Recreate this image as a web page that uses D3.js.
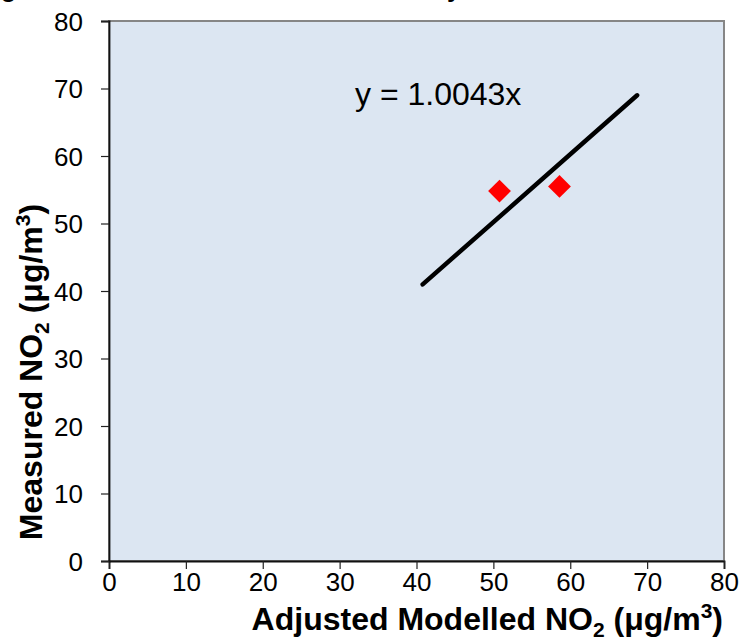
<!DOCTYPE html>
<html lang="en">
  <head>
    <meta charset="utf-8" />
    <title>Measured vs Adjusted Modelled NO2</title>
    <script src="https://d3js.org/d3.v7.min.js"></script>
    <style>
      body {
        margin: 0;
        background: #fff;
      }
      text {
        font-family: Arial, "Liberation Sans", sans-serif;
        fill: #000;
      }
    </style>
  </head>
  <body>
    <script type="text/javascript">
      // data
      const modelled = [50.8, 58.6];
      const measured = [54.8, 55.5];
      const slope = 1.0043;
      const trendX = [40.8, 68.7];
      const xTicks = [0, 10, 20, 30, 40, 50, 60, 70, 80];
      const yTicks = [0, 10, 20, 30, 40, 50, 60, 70, 80];

      //Width and height
      const w = 742;
      const h = 639;

      let xScale = d3.scaleLinear().domain([0, 80]).range([109, 724]);
      let yScale = d3.scaleLinear().domain([0, 80]).range([561, 21]);

      let svg = d3
        .select("body")
        .append("svg")
        .attr("width", w)
        .attr("height", h);

      // clipped title, only descenders show
      svg
        .append("text")
        .attr("x", -22)
        .attr("y", -3)
        .attr("font-size", "25.5px")
        .attr("font-weight", "bold")
        .text("Figure 1: Measured vs Modelled NO2 by Site");

      // plot area
      svg
        .append("rect")
        .attr("x", xScale(0))
        .attr("y", yScale(80))
        .attr("width", xScale(80) - xScale(0))
        .attr("height", yScale(0) - yScale(80))
        .attr("fill", "#dce6f2")
        .attr("stroke", "#868686")
        .attr("stroke-width", 2);

      let xAxis = d3
        .axisBottom(xScale)
        .tickValues(xTicks)
        .tickSize(8)
        .tickPadding(4);
      let yAxis = d3
        .axisLeft(yScale)
        .tickValues(yTicks)
        .tickSize(8)
        .tickPadding(18);

      let gx = svg
        .append("g")
        .attr("transform", "translate(0," + yScale(0) + ")")
        .call(xAxis);
      let gy = svg
        .append("g")
        .attr("transform", "translate(" + xScale(0) + ",0)")
        .call(yAxis);

      [gx, gy].forEach((g) => {
        g.select(".domain").attr("stroke", "#111").attr("stroke-width", 1.8);
        g.selectAll(".tick line").attr("stroke", "#222").attr("stroke-width", 1.2);
        g.selectAll(".tick text")
          .attr("font-size", "26px")
          .attr("font-family", "Arial, 'Liberation Sans', sans-serif")
          .attr("fill", "#000");
      });
      gx.selectAll(".tick text").attr("dy", "0.71em");
      gy.selectAll(".tick text").attr("dy", "0.35em");

      // trendline
      svg
        .append("line")
        .attr("x1", xScale(trendX[0]))
        .attr("y1", yScale(trendX[0] * slope))
        .attr("x2", xScale(trendX[1]))
        .attr("y2", yScale(trendX[1] * slope))
        .attr("stroke", "#000")
        .attr("stroke-width", 4.5)
        .attr("stroke-linecap", "round");

      // diamonds
      svg
        .selectAll("path.pt")
        .data(modelled)
        .enter()
        .append("path")
        .attr("class", "pt")
        .attr("d", d3.symbol().type(d3.symbolSquare).size(260))
        .attr(
          "transform",
          (d, i) =>
            "translate(" + xScale(d) + "," + yScale(measured[i]) + ") rotate(45)"
        )
        .attr("fill", "#ff0000");

      svg
        .append("text")
        .attr("x", 355)
        .attr("y", 105)
        .attr("font-size", "32px")
        .text("y = " + slope.toFixed(4) + "x");

      // axis titles
      let xt = svg
        .append("text")
        .attr("x", 723)
        .attr("y", 630)
        .attr("text-anchor", "end")
        .attr("font-size", "32px")
        .attr("font-weight", "bold");
      xt.append("tspan").text("Adjusted Modelled NO");
      xt.append("tspan").attr("font-size", "21px").attr("dy", 7).text("2");
      xt.append("tspan").attr("dy", -7).text(" (\u03bcg/m");
      xt.append("tspan").attr("font-size", "21px").attr("dy", -12).text("3");
      xt.append("tspan").attr("dy", 12).text(")");

      let yt = svg
        .append("text")
        .attr("transform", "translate(42,372) rotate(-90)")
        .attr("text-anchor", "middle")
        .attr("font-size", "32px")
        .attr("font-weight", "bold");
      yt.append("tspan").text("Measured NO");
      yt.append("tspan").attr("font-size", "21px").attr("dy", 7).text("2");
      yt.append("tspan").attr("dy", -7).text(" (\u03bcg/m");
      yt.append("tspan").attr("font-size", "21px").attr("dy", -12).text("3");
      yt.append("tspan").attr("dy", 12).text(")");
    </script>
  </body>
</html>
